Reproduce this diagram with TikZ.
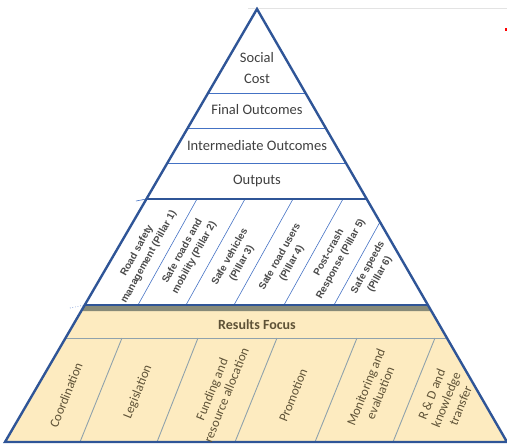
\documentclass[tikz,border=0pt]{standalone}
\usepackage{fontspec}
\setmainfont{Carlito}
\newfontfamily\arialf{Liberation Sans}
\usetikzlibrary{calc}
\definecolor{edgeblue}{HTML}{2F5597}
\definecolor{thinblue}{HTML}{4472C4}
\definecolor{cream}{HTML}{FDEBC0}
\definecolor{stripgrey}{HTML}{878A78}
\definecolor{divgrey}{HTML}{8FA2AC}
\definecolor{txtgrey}{HTML}{3F3F3F}
\definecolor{pilgrey}{HTML}{4A4A4A}
\definecolor{txtbrown}{HTML}{5E5237}
\tikzset{
  outline/.style={edgeblue, line width=2.4pt, line join=miter},
  thickrule/.style={edgeblue, line width=2.2pt},
  thinrule/.style={thinblue, line width=1pt},
  pillarline/.style={thinblue, line width=0.6pt},
  baseline/.style={divgrey, line width=0.9pt},
  uptext/.style={text=txtgrey, font=\fontsize{14.5}{21}\selectfont, align=center, inner sep=0pt},
  pillartext/.style={text=pilgrey, font=\arialf\bfseries\fontsize{10}{13.5}\selectfont, align=center, rotate=61, inner sep=0pt},
  basetext/.style={text=txtbrown, font=\fontsize{13}{15.5}\selectfont, align=center, rotate=68, inner sep=0pt}
}
\begin{document}
\begin{tikzpicture}[x=1pt,y=-1pt]
\useasboundingbox (0,0) rectangle (507,445);
% faint marks
\draw[gray!22, line width=1pt] (248,8) -- (507,8);
\fill[red] (505,28) rectangle (507,31);
% main triangle corners
\coordinate (A) at (257,9);
\coordinate (BL) at (5,442);
\coordinate (BR) at (507,442);
% points on edges
\foreach \n/\t in {93/0.1940,129/0.2771,163/0.3557,199/0.4388,222/0.4919,305/0.6836,311/0.6975,338/0.7598}{
  \coordinate (L\n) at ($(A)!\t!(BL)$);
  \coordinate (R\n) at ($(A)!\t!(BR)$);
}
% bottom fill
\fill[cream] (L305) -- (R305) -- (BR) -- (BL) -- cycle;
\fill[stripgrey] (L305) -- (R305) -- (R311) -- (L311) -- cycle;
% horizontal rules
\draw[thinrule] (L93) -- (R93);
\draw[thinrule] (L129) -- (R129);
\draw[thinrule] (L163) -- (R163);
\draw[baseline] (L338) -- (R338);
% pillar dividers
\coordinate (p1t) at (197,199); \coordinate (p1b) at (138,305);
\coordinate (p2t) at (245,199); \coordinate (p2b) at (186,305);
\coordinate (p3t) at (293,199); \coordinate (p3b) at (234,305);
\coordinate (p4t) at (343,199); \coordinate (p4b) at (284,305);
\coordinate (p5b) at (334,305);
\draw[pillarline] (p1t) -- (p1b);
\draw[pillarline] (p2t) -- (p2b);
\draw[pillarline] (p3t) -- (p3b);
\draw[pillarline] (p4t) -- (p4b);
\draw[pillarline] (R222) -- (p5b);
% base dividers
\coordinate (b1t) at (122,338); \coordinate (b1b) at (80,442);
\coordinate (b2t) at (198,338); \coordinate (b2b) at (157,442);
\coordinate (b3t) at (277,338); \coordinate (b3b) at (235,442);
\coordinate (b4t) at (357,338); \coordinate (b4b) at (315,442);
\coordinate (b5t) at (435,338); \coordinate (b5b) at (393,442);
\foreach \i in {1,...,5}{ \draw[baseline] (b\i t) -- (b\i b); }
% thick rules
\draw[thickrule] (L199) -- (R199);
\draw[thickrule] (L305) -- (R305);
\draw[pillarline] (136,201) -- (L199);
\draw[pillarline, dotted] (70,308) -- (L305);
% outline
\draw[outline] (A) -- (BL) -- (BR) -- cycle;
% upper texts
\node[uptext] (soc) at (257,68.5) {Social\\Cost};
\node[uptext] (fin) at (257,110) {Final Outcomes};
\node[uptext] (int) at (257,146) {Intermediate Outcomes};
\node[uptext] (out) at (257,181) {Outputs};
% pillars
\node[pillartext] (pl1) at (143,254) {Road safety\\management (Pillar 1)};
\node[pillartext] (pl2) at (188.5,254.5) {Safe roads and\\mobility (Pillar 2)};
\node[pillartext] (pl3) at (236,260) {Safe vehicles\\(Pillar 3)};
\node[pillartext] (pl4) at (286,260) {Safe road users\\(Pillar 4)};
\node[pillartext] (pl5) at (335,256) {Post-crash\\Response (Pillar 5)};
\node[pillartext] (pl6) at (374,271) {Safe speeds\\(Pillar 6)};
% results focus
\node[text=txtbrown, font=\bfseries\fontsize{14}{16}\selectfont, inner sep=0pt] (rf) at (257,325) {Results Focus};
\node[basetext] (c1) at (66,395) {Coordination};
\node[basetext] (c2) at (138,392) {Legislation};
\node[basetext] (c3) at (219,392) {Funding and\\resource allocation};
\node[basetext] (c4) at (293,395) {Promotion};
\node[basetext] (c5) at (373,390) {Monitoring and\\evaluation};
\node[basetext] (c6) at (446,400) {R \& D and\\knowledge\\transfer};
\end{tikzpicture}
\end{document}
